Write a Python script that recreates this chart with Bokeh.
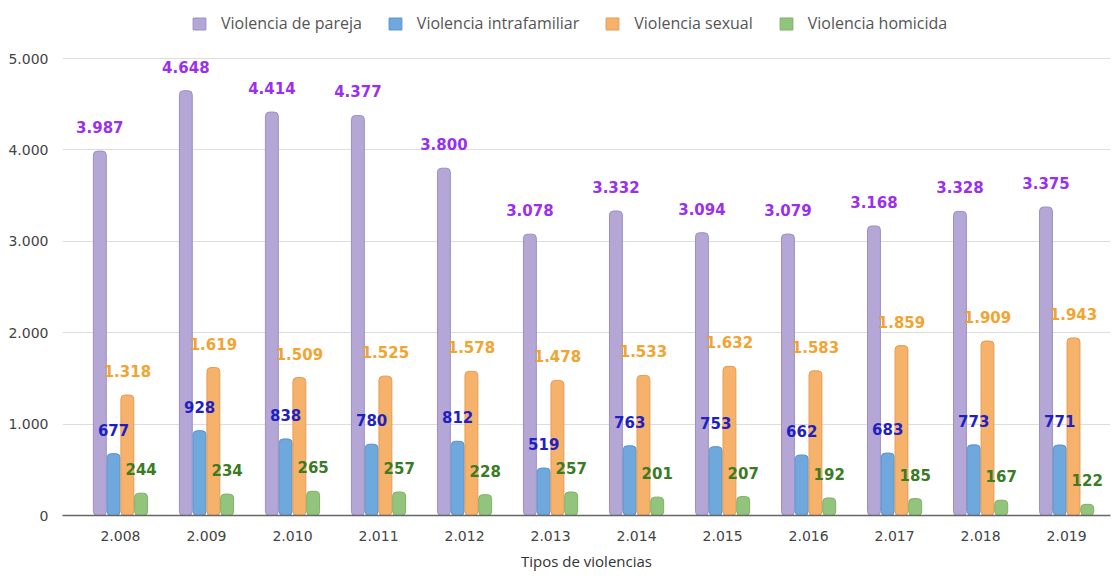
from bokeh.plotting import figure
from bokeh.models import (ColumnDataSource, Range1d, FixedTicker, Legend,
                          LegendItem, Title)
from bokeh.transform import dodge
from bokeh.core.properties import value
from bokeh.embed import file_html
from bokeh.resources import INLINE

years = ["2.008", "2.009", "2.010", "2.011", "2.012", "2.013",
         "2.014", "2.015", "2.016", "2.017", "2.018", "2.019"]
pareja = [3987, 4648, 4414, 4377, 3800, 3078, 3332, 3094, 3079, 3168, 3328, 3375]
intrafamiliar = [677, 928, 838, 780, 812, 519, 763, 753, 662, 683, 773, 771]
sexual = [1318, 1619, 1509, 1525, 1578, 1478, 1533, 1632, 1583, 1859, 1909, 1943]
homicida = [244, 234, 265, 257, 228, 257, 201, 207, 192, 185, 167, 122]
y_ticks = [0, 1000, 2000, 3000, 4000, 5000]
y_tick_labels = ["0", "1.000", "2.000", "3.000", "4.000", "5.000"]
x_title = "Tipos de violencias"

series = [
    ("Violencia de pareja", pareja, "#b4a7d6", "#9d8fc6", "#9b2ff0", -0.24),
    ("Violencia intrafamiliar", intrafamiliar, "#6fa8dc", "#5b94cc", "#1f1fc4", -0.08),
    ("Violencia sexual", sexual, "#f6b26b", "#e29d55", "#f2a431", 0.08),
    ("Violencia homicida", homicida, "#93c47d", "#7eb067", "#3b7b25", 0.24),
]

def fmt(v):
    return f"{v:,}".replace(",", ".")

data = {"x": list(range(len(years)))}
for name, vals, *_ in series:
    data[name] = vals
    data[name + "_lbl"] = [fmt(v) for v in vals]
src = ColumnDataSource(data)

p = figure(width=1113, height=576, output_backend="svg", toolbar_location=None,
           x_range=Range1d(-0.674, 11.51), y_range=Range1d(0, 5635),
           min_border_left=62, min_border_right=3, min_border_top=0,
           min_border_bottom=61)
p.outline_line_color = None
p.background_fill_color = "white"

items = []
for name, vals, fill, line, tcol, off in series:
    r = p.vbar(x=dodge("x", off, range=p.x_range), top=name, width=0.15,
               source=src, fill_color=fill, line_color=line, line_width=1,
               border_radius=4)
    items.append(LegendItem(label=name, renderers=[r]))

for name, vals, fill, line, tcol, off in series:
    p.text(x=dodge("x", off, range=p.x_range), y=name, text=name + "_lbl",
           source=src, text_align="center", text_baseline="middle",
           y_offset=-24, text_font=value("DejaVu Sans"), text_font_style="bold",
           text_font_size="15px", text_color=tcol)

legend = Legend(items=items, orientation="horizontal", location=(129, 481),
                glyph_width=16, glyph_height=15, label_standoff=14, spacing=25,
                padding=4, margin=0, border_line_color=None,
                background_fill_alpha=0,
                label_text_font="Open Sans", label_text_font_size="16px",
                label_text_color="#555555")
p.add_layout(legend, "center")

p.xgrid.grid_line_color = None
p.ygrid.grid_line_color = "#dddddd"
p.ygrid.grid_line_width = 1
p.ygrid.ticker = FixedTicker(ticks=y_ticks)

p.yaxis.ticker = FixedTicker(ticks=y_ticks)
p.yaxis.major_label_overrides = dict(zip(y_ticks, y_tick_labels))
p.yaxis.axis_line_color = None
p.yaxis.major_tick_line_color = None
p.yaxis.minor_tick_line_color = None
p.yaxis.major_label_standoff = 8
p.yaxis.major_label_text_font = "DejaVu Sans"
p.yaxis.major_label_text_font_size = "14px"
p.yaxis.major_label_text_color = "#444444"

p.xaxis.ticker = FixedTicker(ticks=list(range(len(years))))
p.xaxis.major_label_overrides = dict(zip(range(len(years)), years))
p.xaxis.axis_line_color = "#666666"
p.xaxis.axis_line_width = 1.5
p.xaxis.major_tick_line_color = None
p.xaxis.minor_tick_line_color = None
p.xaxis.major_label_standoff = 9
p.xaxis.major_label_text_font = "DejaVu Sans"
p.xaxis.major_label_text_font_size = "14px"
p.xaxis.major_label_text_color = "#444444"

p.add_layout(Title(text=x_title, align="center", offset=7, standoff=11,
                   text_font="Open Sans", text_font_size="15px",
                   text_font_style="normal", text_color="#333333"), "below")

open("out.html", "w").write(file_html(p, INLINE))
